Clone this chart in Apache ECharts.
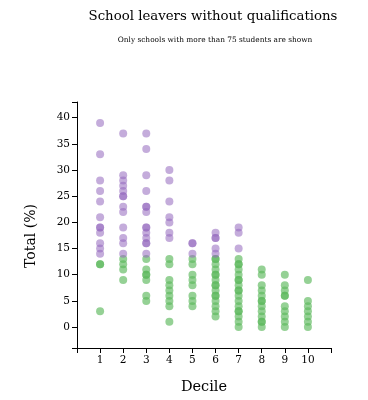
<!DOCTYPE html>
<html>
<head>
<meta charset="utf-8">
<script src="https://cdn.jsdelivr.net/npm/echarts@6/dist/echarts.min.js"></script>
<style>
html,body{margin:0;padding:0;background:#fff;}
#chart{width:368px;height:400px;}
</style>
</head>
<body>
<div id="chart"></div>
<script>
const titleText = 'School leavers without qualifications';
const subtitleText = 'Only schools with more than 75 students are shown';
const xAxisTitle = 'Decile';
const yAxisTitle = 'Total (%)';

const deciles = [1, 2, 3, 4, 5, 6, 7, 8, 9, 10];
const xTickLabels = [1, 2, 3, 4, 5, 6, 7, 8, 9, 10];
const yTickLabels = [0, 5, 10, 15, 20, 25, 30, 35, 40];

// purple points (higher totals), one list per decile
const purpleValues = [
  [39, 33, 28, 26, 24, 21, 19, 19, 18, 16, 15, 14],
  [37, 29, 28, 27, 26, 25, 25, 23, 22, 19, 17, 16, 14],
  [37, 34, 29, 26, 23, 23, 22, 19, 19, 18, 17, 16, 16, 14],
  [30, 28, 24, 21, 20, 18, 17],
  [16, 16, 14],
  [18, 17, 17, 15, 14],
  [19, 18, 15],
  [],
  [],
  []
];
// green points (lower totals), one list per decile
const greenValues = [
  [12, 12, 3],
  [13, 12, 11, 9],
  [13, 11, 10, 10, 9, 6, 5],
  [13, 12, 9, 8, 7, 6, 5, 4, 1],
  [13, 12, 10, 9, 8, 6, 5, 4],
  [13, 13, 12, 11, 10, 10, 9, 8, 8, 7, 6, 6, 5, 4, 3, 2],
  [13, 12, 12, 11, 10, 9, 9, 8, 7, 7, 6, 5, 4, 3, 3, 2, 1, 0],
  [11, 10, 8, 7, 6, 5, 5, 4, 3, 2, 1, 1, 0],
  [10, 8, 7, 6, 6, 4, 3, 2, 1, 0],
  [9, 5, 4, 3, 2, 1, 0]
];

function toPoints(lists) {
  const out = [];
  deciles.forEach((d, i) => lists[i].forEach(v => out.push([d, v])));
  return out;
}

const serif = '"DejaVu Serif", "Liberation Serif", serif';
const chart = echarts.init(document.getElementById('chart'), null, {renderer: 'canvas'});
chart.setOption({
  animation: false,
  backgroundColor: '#fff',
  grid: {left: 77, right: 37, top: 102, bottom: 52, containLabel: false},
  xAxis: {
    type: 'value', min: 0, max: 11, interval: 1,
    name: xAxisTitle, nameLocation: 'middle', nameGap: 32,
    nameTextStyle: {fontFamily: serif, fontSize: 14.5, color: '#000'},
    axisLine: {onZero: false, lineStyle: {color: '#000', width: 1}},
    axisTick: {show: true, length: 5, inside: false, lineStyle: {color: '#000'}},
    axisLabel: {customValues: xTickLabels, fontFamily: serif, fontSize: 10.5, color: '#000', margin: 7},
    splitLine: {show: false}
  },
  yAxis: {
    type: 'value', min: -4, max: 43,
    axisLine: {show: true, onZero: false, lineStyle: {color: '#000', width: 1}},
    axisTick: {show: true, length: 5, customValues: [-4].concat(yTickLabels, [43]), lineStyle: {color: '#000'}},
    axisLabel: {customValues: yTickLabels, fontFamily: serif, fontSize: 10.5, color: '#000', margin: 7},
    splitLine: {show: false}
  },
  graphic: [
    {type: 'text', x: 213, y: 17, style: {text: titleText, font: '13.3px ' + serif, fill: '#000', textAlign: 'center', textVerticalAlign: 'middle'}},
    {type: 'text', x: 215, y: 40, style: {text: subtitleText, font: '7.4px ' + serif, fill: '#000', textAlign: 'center', textVerticalAlign: 'middle'}},
    {type: 'text', x: 31, y: 236, rotation: Math.PI / 2, style: {text: yAxisTitle, font: '14px ' + serif, fill: '#000', textAlign: 'center', textVerticalAlign: 'middle'}}
  ],
  series: [
    {type: 'scatter', data: toPoints(greenValues), symbolSize: 8,
     itemStyle: {color: '#5cb85c', opacity: 0.65}},
    {type: 'scatter', data: toPoints(purpleValues), symbolSize: 8,
     itemStyle: {color: '#9467bd', opacity: 0.55}}
  ]
});
</script>
</body>
</html>
